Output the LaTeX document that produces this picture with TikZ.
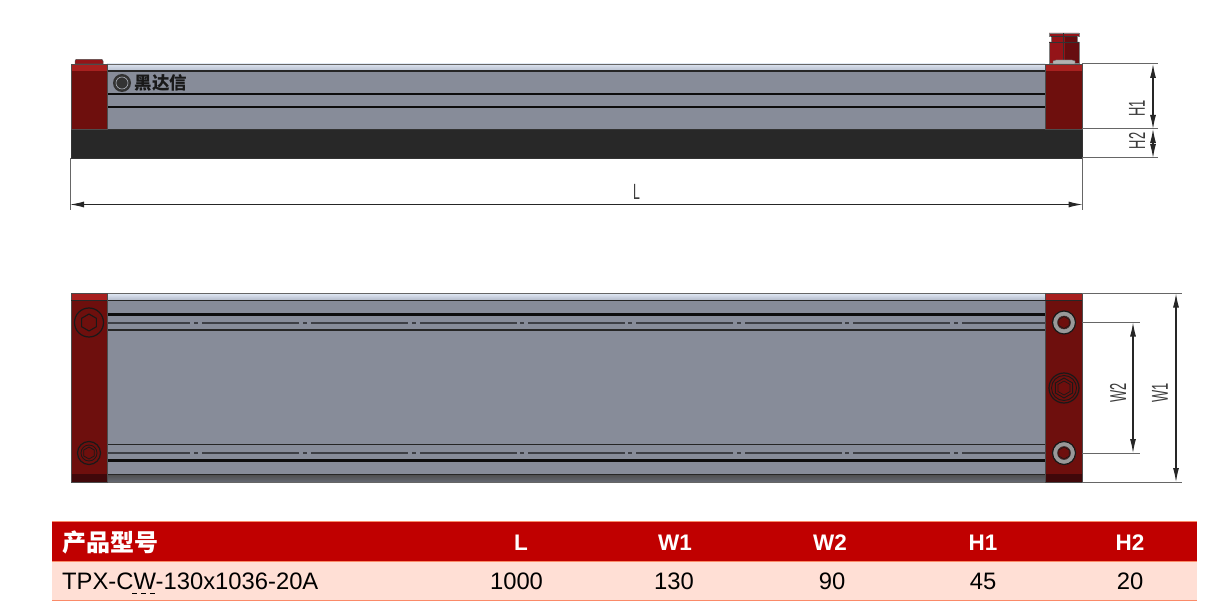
\documentclass[tikz,border=0pt]{standalone}
\usepackage{fontspec}
\setmainfont{Liberation Sans}
\newfontfamily\cjk{Noto Sans CJK SC}
\usetikzlibrary{arrows.meta,shapes.geometric}
\definecolor{body}{HTML}{878C99}
\definecolor{striptop}{HTML}{DCE4F0}
\definecolor{stripbot}{HTML}{B4BBCB}
\definecolor{capred}{HTML}{6E0F0D}
\definecolor{fitred}{HTML}{941418}
\definecolor{litered}{HTML}{A8201F}
\definecolor{darkred}{HTML}{40080A}
\definecolor{basek}{HTML}{282828}
\definecolor{tabred}{HTML}{C00000}
\definecolor{tabpink}{HTML}{FFDFD5}
\definecolor{taborange}{HTML}{FA8A68}
\definecolor{dimgray}{HTML}{3C3C3C}
\tikzset{
  ext/.style={draw=black!60,line width=1pt},
  dimline/.style={draw=black!85,line width=1.1pt,{Latex[length=14pt,width=6pt]}-{Latex[length=14pt,width=6pt]}},
  dimtext/.style={text=dimgray,inner sep=0pt,font=\fontsize{23}{23}\selectfont},
  groove/.style={draw=black!85,line width=1.3pt},
  thick groove/.style={draw=black!95,line width=2.2pt},
  center cut/.style={draw=black!55!body,line width=1.6pt},
  bolt/.style={draw=black!90,circle,inner sep=0pt,line width=1.2pt},
  hexhead/.style={draw=black!90,regular polygon,regular polygon sides=6,shape border rotate=30,inner sep=0pt,line width=1.1pt},
  headtext/.style={text=white,inner sep=0pt,font=\fontsize{22.5}{22}\selectfont\bfseries},
  celltext/.style={text=black,inner sep=0pt,font=\fontsize{23.8}{22}\selectfont},
}
\newcommand{\narrowtext}[1]{\scalebox{0.56}[1]{#1}}
\begin{document}
\begin{tikzpicture}[x=1pt,y=-1pt]
\useasboundingbox[fill=white] (0,0) rectangle (1225,612);

% ---------- front view ----------
\fill[body] (107,64) rectangle (1045,129);
\shade[top color=striptop,bottom color=stripbot] (107,64) rectangle (1045,71);
\draw[black!60,line width=0.8pt] (107,64) -- (1045,64);
\draw[groove] (107,71) -- (1045,71);
\draw[thick groove] (107,94) -- (1045,94);
\draw[thick groove] (107,107) -- (1045,107);
\fill[basek] (71,129) rectangle (1082,158);
\draw[black!80,line width=0.7pt] (71,129) rectangle (1082,158);
% left cap
\fill[capred] (71,64) rectangle (107,129);
\fill[litered] (71,64) rectangle (107,71);
\draw[black!70,line width=0.8pt] (71,64) rectangle (107,129);
\fill[fitred,draw=black!70,line width=0.5pt] (75,64) -- (75,61) -- (76,59.5) -- (102,59.5) -- (103,61) -- (103,64) -- cycle;
% right cap
\fill[capred] (1045,64) rectangle (1082,129);
\fill[litered] (1045,64) rectangle (1082,71);
\draw[black!70,line width=0.8pt] (1045,64) rectangle (1082,129);
% fitting
\fill[fitred,draw=black!50,line width=0.5pt] (1049,42) -- (1051,42) -- (1051,36) -- (1049,36) -- (1049,33) -- (1079,33) -- (1079,36) -- (1077,36) -- (1077,42) -- (1079,42) -- (1079,63) -- (1049,63) -- cycle;
\fill[black,opacity=0.3] (1065,36) rectangle (1077,42);
\fill[black,opacity=0.3] (1065,42) rectangle (1079,63);
\draw[black!80,line width=0.7pt] (1051,36) -- (1077,36) (1049,42) -- (1079,42) (1063.5,33) -- (1063.5,60);
\fill[black!30,draw=black!60,line width=0.4pt] (1053,64) -- (1053,61) -- (1056,60) -- (1072,60) -- (1075,61) -- (1075,64) -- cycle;
% logo
\node[circle,fill=black!80,minimum size=18pt,inner sep=0pt] (logomark) at (122,83) {};
\node[circle,draw=body!70!white,line width=0.6pt,minimum size=12pt,inner sep=0pt] (logoring) at (122,83) {};
\node[inner sep=0pt,text=black!90,anchor=west,font=\cjk\bfseries\fontsize{17.5}{17}\selectfont] (logotext) at (134.5,83) {黑达信};

% front-view dimensions
\coordinate (LA) at (70,158); \coordinate (LAe) at (70,210);
\coordinate (LB) at (1082.5,158); \coordinate (LBe) at (1082.5,210);
\draw[ext] (LA) -- (LAe);
\draw[ext] (LB) -- (LBe);
\coordinate (La) at (70,204.5); \coordinate (Lb) at (1082.5,204.5);
\draw[dimline] (La) -- (Lb);
\node[dimtext] (Ltext) at (636.5,192) {\narrowtext{\fontsize{22}{22}\selectfont L}};
\coordinate (H0) at (1082,64); \coordinate (H0e) at (1158,64);
\coordinate (H1c) at (1082,129); \coordinate (H1e) at (1158,129);
\coordinate (H2c) at (1082,158); \coordinate (H2e) at (1158,158);
\draw[ext] (H0) -- (H0e);
\draw[ext] (H1c) -- (H1e);
\draw[ext] (H2c) -- (H2e);
\coordinate (Hda) at (1153,64); \coordinate (Hdb) at (1153,129); \coordinate (Hdc) at (1153,158);
\draw[dimline] (Hda) -- (Hdb);
\draw[dimline] (Hdb) -- (Hdc);
\node[dimtext,rotate=90] (H1text) at (1137,108.5) {\narrowtext{H1}};
\node[dimtext,rotate=90] (H2text) at (1137,141) {\narrowtext{H2}};

% ---------- plan view ----------
\fill[body] (107,293) rectangle (1045,482);
\shade[top color=striptop,bottom color=stripbot] (107,294) rectangle (1045,300);
\shade[top color=black!70,bottom color=body!75!black] (107,474) rectangle (1045,482);
\draw[black!60,line width=0.8pt] (71,293) rectangle (1082,482);
\draw[groove] (107,300.5) -- (1045,300.5);
\draw[thick groove] (107,314.5) -- (1045,314.5);
\draw[groove] (107,330) -- (1045,330);
\draw[groove] (107,444.5) -- (1045,444.5);
\draw[thick groove] (107,460.5) -- (1045,460.5);
\draw[black!85,line width=1pt] (107,474) -- (1045,474);
\foreach \yy in {323,453}{
  \draw[center cut] (107,\yy) -- (190,\yy);
  \foreach \cx in {196,305,414,522,630,739,847}{
    \draw[center cut] (\cx-2,\yy) -- (\cx+2,\yy);
    \draw[center cut] (\cx+6,\yy) -- (\cx+103,\yy);
  }
  \draw[center cut] (954,\yy) -- (958,\yy);
  \draw[center cut] (962,\yy) -- (1045,\yy);
}
% caps
\foreach \xa/\xb in {71/107,1045/1082}{
  \fill[capred] (\xa,293) rectangle (\xb,482);
  \fill[litered] (\xa,293) rectangle (\xb,300);
  \fill[darkred] (\xa,474) rectangle (\xb,482);
  \draw[black!70,line width=0.8pt] (\xa,293) rectangle (\xb,482);
  \draw[black!85,line width=0.8pt] (\xa,300.5) -- (\xb,300.5);
}
% left bolts
\node[bolt,minimum size=29pt] (boltLu) at (89,322.5) {};
\node[hexhead,minimum size=17pt] (hexLu) at (89,322.5) {};
\node[bolt,minimum size=23pt] (boltLd) at (89,453) {};
\node[circle,draw=black!90,line width=0.8pt,minimum size=16pt,inner sep=0pt] (ringLd) at (89,453) {};
\node[hexhead,minimum size=12pt,line width=0.8pt] (hexLd) at (89,453) {};
% right bolts
\foreach \nm/\yy in {Ru/322.5,Rd/453}{
  \node[bolt,fill=black!40,minimum size=23pt] (bolt\nm) at (1064,\yy) {};
  \node[circle,fill=capred,draw=black!80,line width=0.5pt,minimum size=13pt,inner sep=0pt] (hole\nm) at (1064,\yy) {};
  \node[hexhead,minimum size=12pt,line width=0.6pt] (hex\nm) at (1064,\yy) {};
}
\node[bolt,minimum size=30pt] (boltRm) at (1064,388) {};
\node[bolt,minimum size=25pt,line width=0.9pt] (boltRm2) at (1064,388) {};
\node[hexhead,minimum size=20pt,line width=0.9pt] (hexRm) at (1064,388) {};
\node[hexhead,minimum size=14pt,line width=0.7pt] (hexRm2) at (1064,388) {};

% plan-view dimensions
\coordinate (Wa) at (1082,293.5); \coordinate (Wae) at (1182,293.5);
\coordinate (Wb) at (1082,482); \coordinate (Wbe) at (1182,482);
\coordinate (Va) at (1082,322.5); \coordinate (Vae) at (1140,322.5);
\coordinate (Vb) at (1082,453); \coordinate (Vbe) at (1140,453);
\draw[ext] (Wa) -- (Wae);
\draw[ext] (Wb) -- (Wbe);
\draw[ext] (Va) -- (Vae);
\draw[ext] (Vb) -- (Vbe);
\coordinate (Wda) at (1176,293.5); \coordinate (Wdb) at (1176,482);
\coordinate (Vda) at (1133,322.5); \coordinate (Vdb) at (1133,453);
\draw[dimline] (Wda) -- (Wdb);
\draw[dimline] (Vda) -- (Vdb);
\node[dimtext,rotate=90] (W1text) at (1160,393) {\narrowtext{W1}};
\node[dimtext,rotate=90] (W2text) at (1118,393) {\narrowtext{W2}};

% ---------- table ----------
\fill[tabpink] (52,561) rectangle (1197,600);
\fill[tabred] (52,522) rectangle (1197,561);
\draw[taborange,line width=1pt] (52,521.5) -- (1197,521.5);
\draw[taborange,line width=1pt] (52,561) -- (1197,561);
\draw[taborange,line width=1pt] (52,600.5) -- (1197,600.5);
\node[headtext,anchor=west,font=\cjk\bfseries\fontsize{24}{24}\selectfont] (hd0) at (62,542.5) {产品型号};
\node[headtext] (hd1) at (521,543) {L};
\node[headtext] (hd2) at (675,543) {W1};
\node[headtext] (hd3) at (830,543) {W2};
\node[headtext] (hd4) at (983,543) {H1};
\node[headtext] (hd5) at (1130,543) {H2};
\node[celltext,anchor=west] (c0) at (62,581.5) {TPX-CW-130x1036-20A};
\node[celltext] (c1) at (516.5,581.5) {1000};
\node[celltext] (c2) at (674,581.5) {130};
\node[celltext] (c3) at (832,581.5) {90};
\node[celltext] (c4) at (983,581.5) {45};
\node[celltext] (c5) at (1130,581.5) {20};
\coordinate (ula) at (132,593.5); \coordinate (ulb) at (156,593.5);
\draw[black,line width=1.1pt,dash pattern=on 5pt off 4pt] (ula) -- (ulb);
\end{tikzpicture}
\end{document}
